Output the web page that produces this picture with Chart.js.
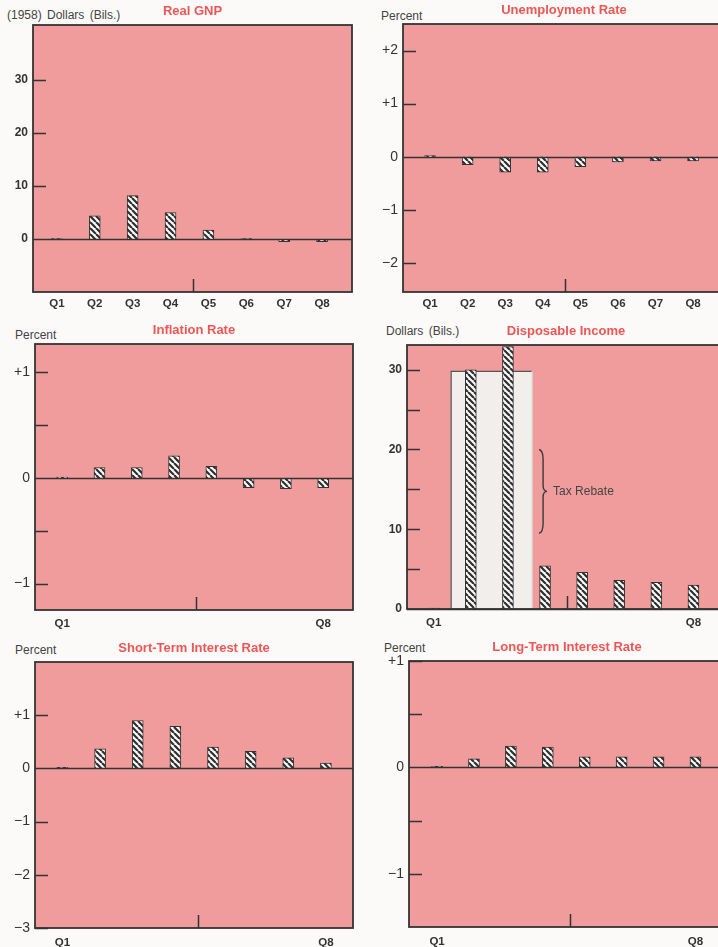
<!DOCTYPE html>
<html>
<head>
<meta charset="utf-8">
<script src="https://cdn.jsdelivr.net/npm/chart.js@4.4.1/dist/chart.umd.min.js"></script>
<style>
  html, body { margin: 0; padding: 0; width: 718px; height: 947px; overflow: hidden; background: #fcfaf8; }
  canvas { position: absolute; }
  .unit { position: absolute; font: 12px "Liberation Sans", Arial, sans-serif; color: #444; white-space: nowrap; line-height: 14px; word-spacing: 2px; }
</style>
</head>
<body>
<div class="unit" style="left:7px;top:8px">(1958) Dollars (Bils.)</div>
<div class="unit" style="left:381px;top:9px">Percent</div>
<div class="unit" style="left:15px;top:328px">Percent</div>
<div class="unit" style="left:386px;top:324px">Dollars (Bils.)</div>
<div class="unit" style="left:15px;top:643px">Percent</div>
<div class="unit" style="left:384px;top:641px">Percent</div>

<canvas id="gnp" width="360" height="314" style="left:0;top:0"></canvas>
<canvas id="unemployment" width="370" height="315" style="left:360px;top:-1px"></canvas>
<canvas id="inflation" width="360" height="313" style="left:0;top:319px"></canvas>
<canvas id="income" width="370" height="311" style="left:360px;top:320px"></canvas>
<canvas id="shortRate" width="360" height="313" style="left:0;top:637px"></canvas>
<canvas id="longRate" width="370" height="313" style="left:360px;top:636px"></canvas>

<script>
const quarters = ['Q1', 'Q2', 'Q3', 'Q4', 'Q5', 'Q6', 'Q7', 'Q8'];
const sparseQuarters = ['Q1', 'Q8'];

// change from the baseline, per quarter
const gnpValues = [0.1, 4.4, 8.2, 5.0, 1.7, 0.1, -0.5, -0.5];
const unemploymentValues = [0.02, -0.15, -0.29, -0.29, -0.19, -0.1, -0.08, -0.08];
const inflationValues = [0.01, 0.1, 0.1, 0.21, 0.11, -0.09, -0.1, -0.09];
const incomeValues = [0.1, 30, 32.9, 5.4, 4.6, 3.6, 3.35, 3.0];
const shortRateValues = [0.02, 0.37, 0.9, 0.79, 0.4, 0.32, 0.2, 0.1];
const longRateValues = [0.01, 0.08, 0.2, 0.19, 0.1, 0.1, 0.1, 0.1];

const gnpTicks = [0, 10, 20, 30];
const unemploymentTicks = [-2, -1, 0, 1, 2];
const inflationTicks = [-1, -0.5, 0, 0.5, 1];
const incomeTicks = [0, 5, 10, 15, 20, 25, 30];
const shortRateTicks = [-3, -2, -1, 0, 1];
const longRateTicks = [-1, -0.5, 0, 0.5, 1];

// tax rebate block on the disposable income panel
const rebateSpan = [1.47, 3.65];
const rebateLevel = 29.8;
const braceSpan = [9.5, 20];
const braceAt = 3.84;
const yearBreak = 4.6;

const FONT = '"Liberation Sans", Arial, sans-serif';
const INK = '#333';
const PINK = '#f09c9c';

function stripes() {
    const c = document.createElement('canvas');
    c.width = 6;
    c.height = 6;
    const g = c.getContext('2d');
    g.fillStyle = '#fbfbfb';
    g.fillRect(0, 0, 6, 6);
    g.strokeStyle = '#2f2f2f';
    g.lineWidth = 2.2;
    g.beginPath();
    [-6, 0, 6].forEach(k => {
        g.moveTo(k, 0);
        g.lineTo(k + 6, 6);
    });
    g.stroke();
    return g.createPattern(c, 'repeat');
}
const hatch = stripes();

const frame = {
    id: 'frame',
    beforeDraw(chart) {
        const {ctx, chartArea: a} = chart;
        ctx.save();
        ctx.fillStyle = PINK;
        ctx.fillRect(a.left, a.top, a.right - a.left, a.bottom - a.top);
        ctx.restore();
    },
    afterDatasetsDraw(chart) {
        const {ctx, chartArea: a, scales: {x, y}} = chart;
        ctx.save();
        ctx.strokeStyle = INK;
        ctx.lineWidth = 1.5;
        ctx.beginPath();
        y.ticks.forEach(t => {
            const py = Math.round(y.getPixelForValue(t.value)) + 0.5;
            ctx.moveTo(a.left, py);
            ctx.lineTo(a.left + 13, py);
        });
        const zy = Math.round(y.getPixelForValue(0)) + 0.5;
        ctx.moveTo(a.left, zy);
        ctx.lineTo(a.right, zy);
        const bx = Math.round(x.getPixelForValue(yearBreak)) + 0.5;
        ctx.moveTo(bx, a.bottom);
        ctx.lineTo(bx, a.bottom - 13);
        ctx.stroke();
        ctx.lineWidth = 1.8;
        ctx.strokeRect(a.left, a.top, a.right - a.left, a.bottom - a.top);
        ctx.restore();
    }
};

const rebate = {
    id: 'rebate',
    beforeDatasetsDraw(chart) {
        const {ctx, scales: {x, y}} = chart;
        const l = x.getPixelForValue(rebateSpan[0]);
        const r = x.getPixelForValue(rebateSpan[1]);
        const t = y.getPixelForValue(rebateLevel);
        const b = y.getPixelForValue(0);
        ctx.save();
        ctx.fillStyle = '#f1eeec';
        ctx.fillRect(l, t, r - l, b - t);
        ctx.strokeStyle = '#555';
        ctx.lineWidth = 1.2;
        ctx.beginPath();
        ctx.moveTo(l, b);
        ctx.lineTo(l, t);
        ctx.lineTo(r, t);
        ctx.stroke();
        ctx.strokeStyle = '#ddd';
        ctx.beginPath();
        ctx.moveTo(r, t);
        ctx.lineTo(r, b);
        ctx.stroke();
        ctx.restore();
    },
    afterDatasetsDraw(chart) {
        const {ctx, scales: {x, y}} = chart;
        const bx = x.getPixelForValue(braceAt);
        const top = y.getPixelForValue(braceSpan[1]);
        const bot = y.getPixelForValue(braceSpan[0]);
        const mid = (top + bot) / 2;
        ctx.save();
        ctx.strokeStyle = '#3a3a3a';
        ctx.lineWidth = 1.4;
        ctx.beginPath();
        ctx.moveTo(bx, top);
        ctx.quadraticCurveTo(bx + 4, top + 1, bx + 4, top + 10);
        ctx.lineTo(bx + 4, mid - 6);
        ctx.quadraticCurveTo(bx + 4, mid, bx + 8, mid);
        ctx.quadraticCurveTo(bx + 4, mid, bx + 4, mid + 6);
        ctx.lineTo(bx + 4, bot - 10);
        ctx.quadraticCurveTo(bx + 4, bot - 1, bx, bot);
        ctx.stroke();
        ctx.fillStyle = '#444';
        ctx.font = '12px ' + FONT;
        ctx.textBaseline = 'middle';
        ctx.fillText('Tax Rebate', bx + 14, mid);
        ctx.restore();
    }
};

function signed(v) {
    if (v === 0) return '0';
    if (!Number.isInteger(v)) return '';
    return v > 0 ? '+' + v : '\u2212' + Math.abs(v);
}

function tens(v) {
    return v % 10 === 0 ? String(v) : '';
}

function drawPanel(id, o) {
    const ctx = document.getElementById(id).getContext('2d');
    return new Chart(ctx, {
        type: 'bar',
        data: {
            datasets: [{
                data: o.values.map((v, i) => ({x: i + 1, y: v})),
                backgroundColor: hatch,
                borderColor: INK,
                borderWidth: 1,
                barThickness: 11,
            }],
        },
        plugins: o.extra ? [frame, o.extra] : [frame],
        options: {
            responsive: false,
            animation: false,
            layout: {padding: {left: 0, right: o.padRight, top: 0, bottom: 0}},
            plugins: {
                legend: {display: false},
                tooltip: {enabled: false},
                title: {
                    display: true,
                    text: o.title,
                    color: '#ee5656',
                    fullSize: false,
                    font: {family: FONT, size: 13, weight: 'bold', lineHeight: 1.2},
                    padding: {top: 4, bottom: 5.4},
                },
            },
            scales: {
                x: {
                    type: 'linear',
                    offset: false,
                    min: o.xMin,
                    max: o.xMax,
                    grid: {display: false, drawTicks: false, offset: false},
                    border: {display: false},
                    afterBuildTicks: s => { s.ticks = quarters.map((q, i) => ({value: i + 1})); },
                    afterFit: s => { s.height = 22; },
                    ticks: {
                        autoSkip: false,
                        maxRotation: 0,
                        padding: o.xPad,
                        color: INK,
                        font: {family: FONT, size: 11.5, weight: 'bold'},
                        callback: v => {
                            const q = quarters[Math.round(v) - 1];
                            return o.xLabels.includes(q) ? q : '';
                        },
                    },
                },
                y: {
                    min: o.yMin,
                    max: o.yMax,
                    grid: {display: false, drawTicks: false},
                    border: {display: false},
                    afterBuildTicks: s => { s.ticks = o.ticks.map(v => ({value: v})); },
                    afterFit: s => { s.width = o.yWidth; },
                    ticks: {
                        padding: 5,
                        color: INK,
                        font: o.format === tens
                            ? {family: FONT, size: 12, weight: 'bold'}
                            : {family: FONT, size: 14},
                        callback: o.format,
                    },
                },
            },
        },
    });
}

drawPanel('gnp', {
    title: 'Real GNP', values: gnpValues, ticks: gnpTicks, format: tens,
    yMin: -10, yMax: 40.4, yWidth: 33, padRight: 8, xMin: 0.37, xMax: 8.79,
    xLabels: quarters, xPad: 5,
});
drawPanel('unemployment', {
    title: 'Unemployment Rate', values: unemploymentValues, ticks: unemploymentTicks, format: signed,
    yMin: -2.55, yMax: 2.5, yWidth: 43, padRight: 5, xMin: 0.28, xMax: 8.85,
    xLabels: quarters, xPad: 5,
});
drawPanel('inflation', {
    title: 'Inflation Rate', values: inflationValues, ticks: inflationTicks, format: signed,
    yMin: -1.25, yMax: 1.27, yWidth: 35, padRight: 7, xMin: 0.27, xMax: 8.8,
    xLabels: sparseQuarters, xPad: 7,
});
drawPanel('income', {
    title: 'Disposable Income', values: incomeValues, ticks: incomeTicks, format: tens,
    yMin: 0, yMax: 33.1, yWidth: 47, padRight: 5, xMin: 0.28, xMax: 8.85,
    xLabels: sparseQuarters, xPad: 7, extra: rebate,
});
drawPanel('shortRate', {
    title: 'Short-Term Interest Rate', values: shortRateValues, ticks: shortRateTicks, format: signed,
    yMin: -3, yMax: 2, yWidth: 35, padRight: 7, xMin: 0.27, xMax: 8.72,
    xLabels: sparseQuarters, xPad: 8,
});
drawPanel('longRate', {
    title: 'Long-Term Interest Rate', values: longRateValues, ticks: longRateTicks, format: signed,
    yMin: -1.5, yMax: 1, yWidth: 49, padRight: 5, xMin: 0.24, xMax: 8.8,
    xLabels: sparseQuarters, xPad: 8,
});
</script>
</body>
</html>
